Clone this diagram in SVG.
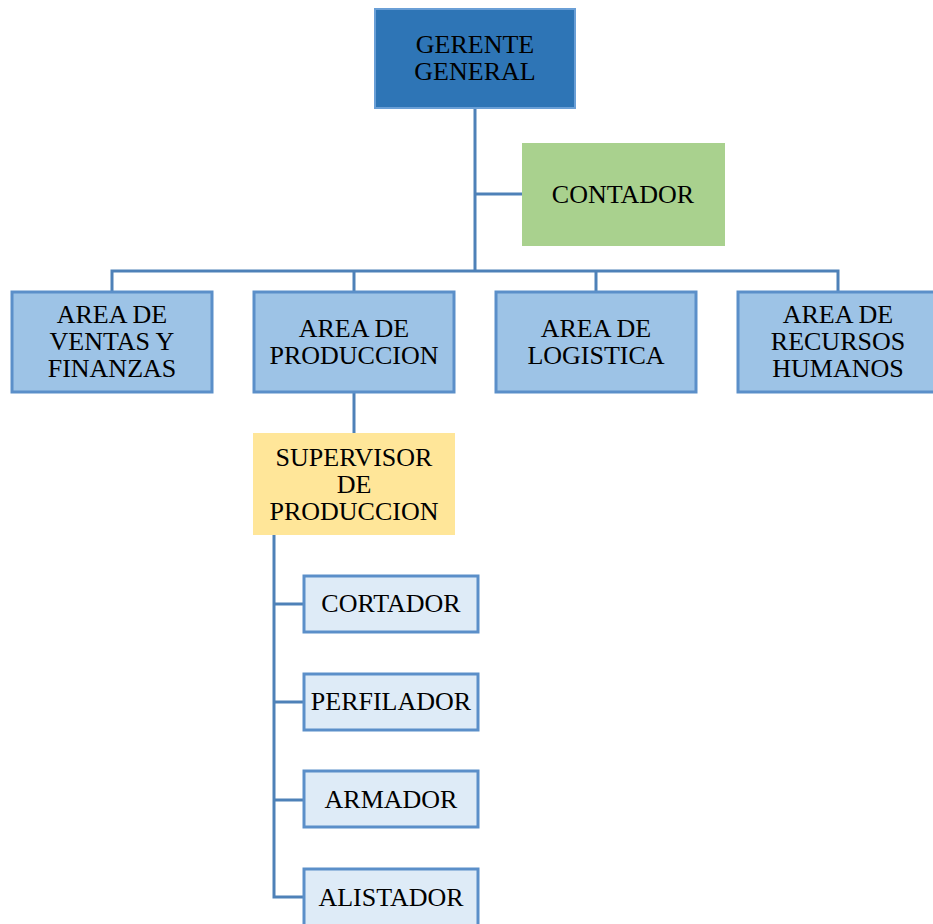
<svg xmlns="http://www.w3.org/2000/svg" width="933" height="924" viewBox="0 0 933 924">
<style>
text{font-family:"Liberation Serif","Times New Roman",serif;font-size:26px;fill:#000;text-anchor:middle}
.area{fill:#9DC3E6;stroke:#5B8FC9;stroke-width:3}
.sub{fill:#DEEBF7;stroke:#5B8FC9;stroke-width:3}
.conn{stroke:#4E81B8;stroke-width:3;fill:none}
</style>
<rect width="933" height="924" fill="#fff"/>
<g id="connectors" class="conn">
<path d="M475 108V271M475 194H522M112 292V271H838V292M354 271V292M596 271V292"/>
<path d="M354 392V433"/>
<path d="M274 535V897H304M274 604H304M274 702H304M274 800H304"/>
</g>
<g id="gerente">
<rect x="375" y="9" width="200" height="99" fill="#2E75B6" stroke="#6A9FD6" stroke-width="2"/>
<text x="475" y="53">GERENTE</text><text x="475" y="80">GENERAL</text>
</g>
<g id="contador">
<rect x="522" y="143" width="203" height="103" fill="#A9D18E"/>
<text x="623" y="203">CONTADOR</text>
</g>
<g id="ventas">
<rect class="area" x="12" y="292" width="200" height="100"/>
<text x="112" y="323">AREA DE</text><text x="112" y="350">VENTAS Y</text><text x="112" y="377">FINANZAS</text>
</g>
<g id="produccion">
<rect class="area" x="254" y="292" width="200" height="100"/>
<text x="354" y="337">AREA DE</text><text x="354" y="364">PRODUCCION</text>
</g>
<g id="logistica">
<rect class="area" x="496" y="292" width="200" height="100"/>
<text x="596" y="337">AREA DE</text><text x="596" y="364">LOGISTICA</text>
</g>
<g id="rrhh">
<rect class="area" x="738" y="292" width="200" height="100"/>
<text x="838" y="323">AREA DE</text><text x="838" y="350">RECURSOS</text><text x="838" y="377">HUMANOS</text>
</g>
<g id="supervisor">
<rect x="253" y="433" width="202" height="102" fill="#FFE699"/>
<text x="354" y="466">SUPERVISOR</text><text x="354" y="493">DE</text><text x="354" y="520">PRODUCCION</text>
</g>
<g id="cortador">
<rect class="sub" x="304" y="576" width="174" height="56"/>
<text x="391" y="612">CORTADOR</text>
</g>
<g id="perfilador">
<rect class="sub" x="304" y="674" width="174" height="56"/>
<text x="391" y="710">PERFILADOR</text>
</g>
<g id="armador">
<rect class="sub" x="304" y="771" width="174" height="56"/>
<text x="391" y="808">ARMADOR</text>
</g>
<g id="alistador">
<rect class="sub" x="304" y="869" width="174" height="60"/>
<text x="391" y="906">ALISTADOR</text>
</g>
</svg>
